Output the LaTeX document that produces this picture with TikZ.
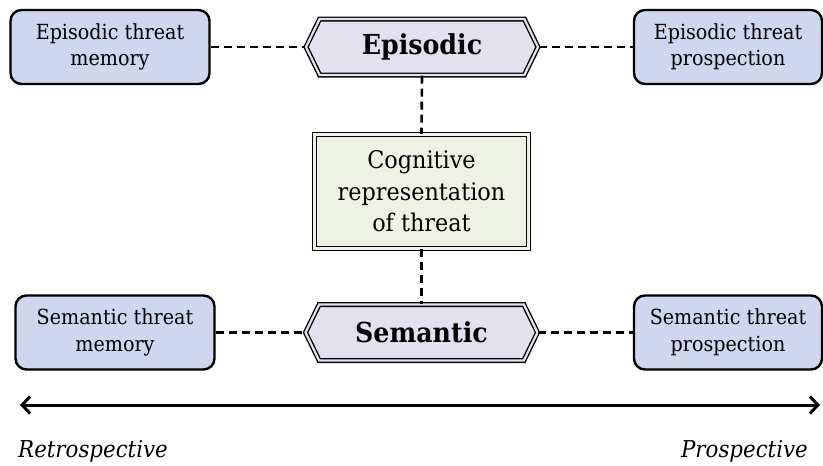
\documentclass[tikz,border=0pt]{standalone}
\usepackage{fontspec}
\setmainfont{DejaVu Serif}[FakeStretch=0.92]
\usetikzlibrary{shapes.symbols,arrows.meta}
\definecolor{sideblue}{HTML}{CDD7EE}
\definecolor{hexfill}{HTML}{E4E1EF}
\definecolor{cogfill}{HTML}{EEF2E2}
\begin{document}
\begin{tikzpicture}[x=1pt,y=-1pt,
  sidebox/.style={draw=black, line width=2.4pt, rounded corners=11pt, fill=sideblue,
    minimum width=199pt, minimum height=74pt, align=center, font=\fontsize{20.8}{26.5}\selectfont, inner sep=0pt},
  hexbox/.style={signal, signal to=west and east, signal pointer angle=128, draw=black, double=hexfill,
    double distance=2.2pt, line width=1.4pt, fill=hexfill, minimum width=232pt, minimum height=56pt,
    font=\bfseries\fontsize{27.5}{30}\selectfont, inner sep=0pt},
  cogbox/.style={draw=black, double=cogfill, double distance=2.4pt, line width=1.3pt, fill=cogfill,
    minimum width=214pt, minimum height=114pt, align=center, font=\fontsize{24.3}{31.5}\selectfont, inner sep=0pt},
  conn/.style={line width=2.6pt, dash pattern=on 8pt off 5pt},
  axis/.style={line width=3pt, {Straight Barb[length=8pt,width=17pt,line width=3pt]}-{Straight Barb[length=8pt,width=17pt,line width=3pt]}},
  lbl/.style={font=\itshape\fontsize{23.2}{26}\selectfont, inner sep=0pt}
]
\useasboundingbox (0,0) rectangle (823,466);
\node[sidebox] (epm) at (110,47) {Episodic threat\\memory};
\node[sidebox, minimum width=188pt] (epp) at (728,47) {Episodic threat\\prospection};
\node[hexbox] (epi) at (422,47) {Episodic};
\node[cogbox] (cog) at (421.5,191.5) {Cognitive\\representation\\of threat};
\node[hexbox] (sem) at (421.5,332.5) {Semantic};
\node[sidebox] (sem m) at (115,332.5) {Semantic threat\\memory};
\node[sidebox, minimum width=188pt] (sem p) at (728,332.5) {Semantic threat\\prospection};
\draw[conn] (epm.east) -- (epi.west);
\draw[conn] (epi.east) -- (epp.west);
\draw[conn] (sem m.east) -- (sem.west);
\draw[conn] (sem.east) -- (sem p.west);
\draw[conn] (epi.south) -- (cog.north);
\draw[conn] (cog.south) -- (sem.north);
\coordinate (L) at (20,405);
\coordinate (R) at (820,405);
\draw[axis] (L) -- (R);
\node[lbl, anchor=west] (retro) at (18,451) {Retrospective};
\node[lbl, anchor=east] (pro) at (808,451) {Prospective};
\end{tikzpicture}
\end{document}
